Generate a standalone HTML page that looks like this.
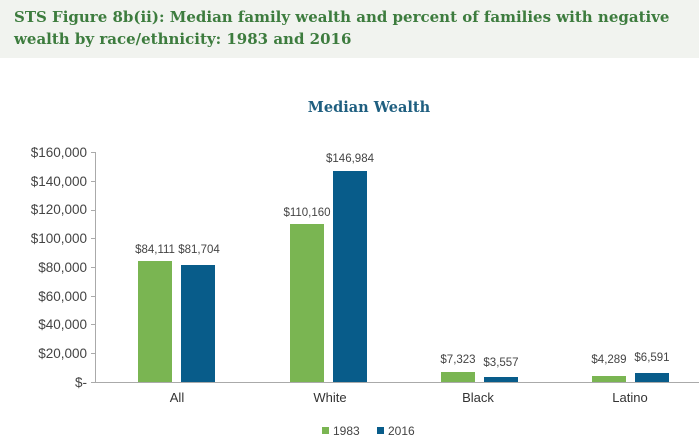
<!DOCTYPE html>
<html><head><style>
body{margin:0;width:699px;height:443px;background:#fff;overflow:hidden;font-family:"Liberation Sans",sans-serif}
.hd{position:absolute;left:0;top:0;width:699px;height:58px;background:#f1f3ef}
.hd div{position:absolute;left:14px;top:6px;font-family:"DejaVu Serif",serif;font-weight:bold;font-size:15px;line-height:22px;color:#3d7c3e;white-space:nowrap}
</style></head><body>
<div class="hd"><div>STS Figure 8b(ii): Median family wealth and percent of families with negative<br>wealth by race/ethnicity: 1983 and 2016</div></div>
<svg width="699" height="443" style="position:absolute;left:0;top:0" font-family="Liberation Sans, sans-serif">
<text x="369" y="112" text-anchor="middle" font-family="DejaVu Serif, serif" font-weight="bold" font-size="14.5" fill="#1f5f80">Median Wealth</text>
<g font-size="13.5" fill="#444" text-anchor="end">
<text x="87" y="157">$160,000</text><text x="87" y="186">$140,000</text><text x="87" y="214">$120,000</text><text x="87" y="243">$100,000</text><text x="87" y="272">$80,000</text><text x="87" y="301">$60,000</text><text x="87" y="329">$40,000</text><text x="87" y="358">$20,000</text><text x="87" y="387">$-</text>
</g>
<g stroke="#aaa" stroke-width="1">
<line x1="95.5" y1="152" x2="95.5" y2="382"/>
<line x1="91" y1="152.5" x2="95" y2="152.5"/><line x1="91" y1="181.5" x2="95" y2="181.5"/><line x1="91" y1="210.5" x2="95" y2="210.5"/><line x1="91" y1="238.5" x2="95" y2="238.5"/><line x1="91" y1="267.5" x2="95" y2="267.5"/><line x1="91" y1="296.5" x2="95" y2="296.5"/><line x1="91" y1="324.5" x2="95" y2="324.5"/><line x1="91" y1="353.5" x2="95" y2="353.5"/>
</g>
<g fill="#7ab552">
<rect x="138" y="261" width="34" height="121"/><rect x="290" y="224" width="34" height="158"/><rect x="441" y="372" width="34" height="10"/><rect x="592" y="376" width="34" height="6"/>
</g>
<g fill="#085c8a">
<rect x="181" y="265" width="34" height="117"/><rect x="333" y="171" width="34" height="211"/><rect x="484" y="377" width="34" height="5"/><rect x="635" y="373" width="34" height="9"/>
</g>
<line x1="91" y1="382.5" x2="705" y2="382.5" stroke="#aaa"/>
<g font-size="11.5" fill="#444" text-anchor="middle">
<text x="155" y="253">$84,111</text><text x="199" y="253">$81,704</text>
<text x="307" y="216">$110,160</text><text x="350" y="162">$146,984</text>
<text x="458" y="363">$7,323</text><text x="501" y="366">$3,557</text>
<text x="609" y="363">$4,289</text><text x="652" y="361">$6,591</text>
</g>
<g font-size="13" fill="#333" text-anchor="middle">
<text x="177" y="402">All</text><text x="330" y="402">White</text><text x="478" y="402">Black</text><text x="630" y="402">Latino</text>
</g>
<rect x="322" y="427" width="7" height="7" fill="#7ab552"/><text x="333" y="435" font-size="12" fill="#444">1983</text>
<rect x="377" y="427" width="7" height="7" fill="#085c8a"/><text x="388" y="435" font-size="12" fill="#444">2016</text>
</svg>
</body></html>
